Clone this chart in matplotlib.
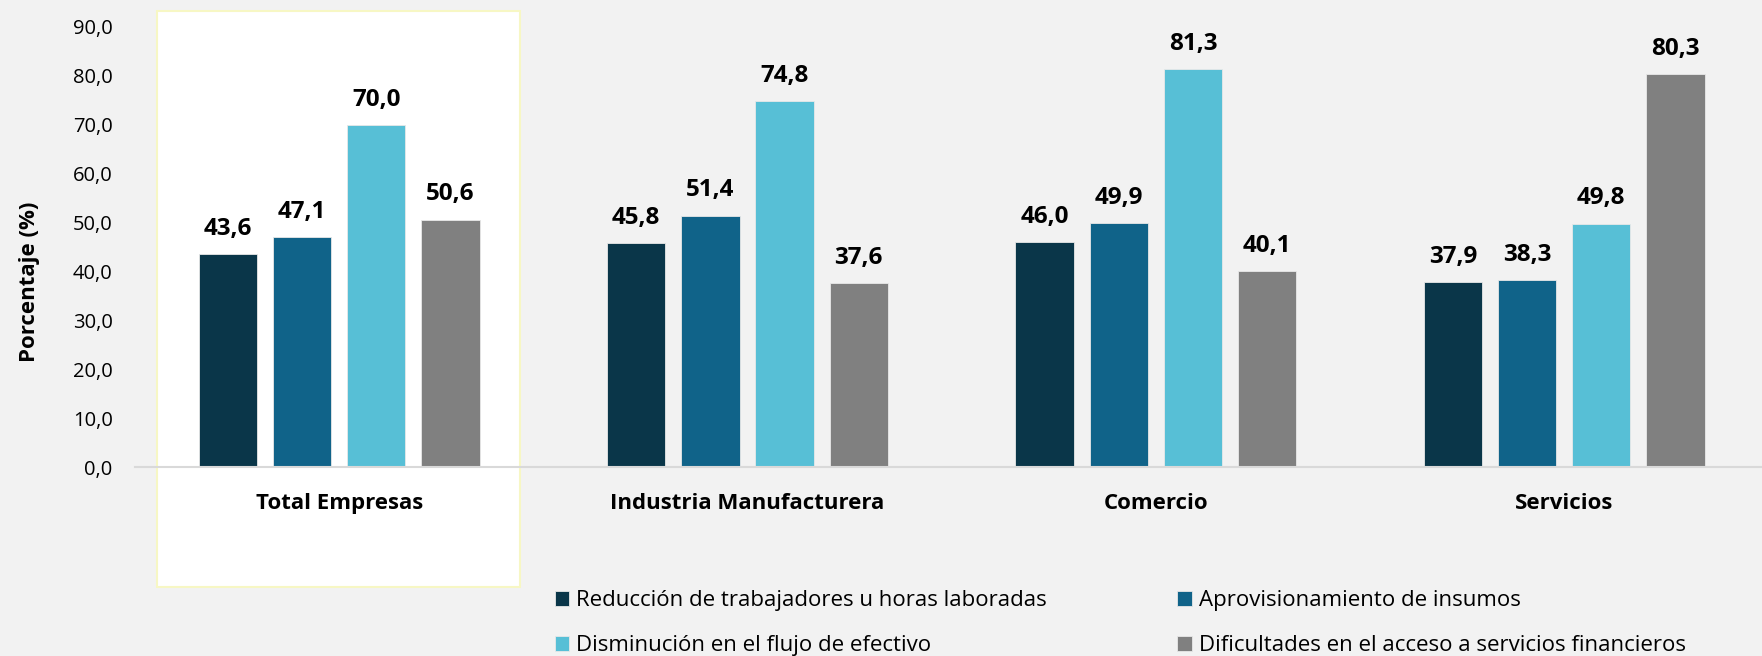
import numpy as np
import matplotlib
matplotlib.use("Agg")
import matplotlib.pyplot as plt
from matplotlib.patches import Rectangle

# Data
categories = ["Total Empresas", "Industria Manufacturera", "Comercio", "Servicios"]
series_names = [
    "Reducción de trabajadores u horas laboradas",
    "Aprovisionamiento de insumos",
    "Disminución en el flujo de efectivo",
    "Dificultades en el acceso a servicios financieros",
]
reduccion = [43.6, 45.8, 46.0, 37.9]
aprovisionamiento = [47.1, 51.4, 49.9, 38.3]
disminucion = [70.0, 74.8, 81.3, 49.8]
dificultades = [50.6, 37.6, 40.1, 80.3]
y_ticks = [0, 10, 20, 30, 40, 50, 60, 70, 80, 90]

colors = ["#0a3649", "#106389", "#57bfd6", "#808080"]
series = [reduccion, aprovisionamiento, disminucion, dificultades]

plt.rcParams['font.family'] = ['Open Sans', 'DejaVu Sans']

fig = plt.figure(figsize=(17.62, 6.56), dpi=100)
fig.patch.set_facecolor("#f2f2f2")

# highlighted box behind the first group
fig.patches.append(Rectangle((0.0891, 0.105), 0.206, 0.878, transform=fig.transFigure,
                             facecolor="white", edgecolor="#f7f7c4", linewidth=1.5, zorder=0))

ax = fig.add_axes([0.0766, 0.288, 0.927, 0.671])
ax.set_facecolor("none")
ax.set_zorder(1)

x = np.arange(len(categories))
width = 0.143
step = 0.1816
offsets = (np.arange(4) - 1.5) * step

bars_all = []
for i, (vals, c) in enumerate(zip(series, colors)):
    bars = ax.bar(x + offsets[i], vals, width, color=c, label=series_names[i],
                  edgecolor="#e8e8e8", linewidth=0.6, zorder=2)
    bars_all.append(bars)
    for b, v in zip(bars, vals):
        ax.annotate(f"{v:.1f}".replace(".", ","), (b.get_x() + b.get_width() / 2, v),
                    xytext=(0, 9.5), textcoords="offset points", ha="center", va="bottom",
                    fontsize=17.5, fontweight="bold", color="black")

ax.set_xlim(-0.5, 3.5)
ax.set_ylim(0, 90)
ax.set_yticks(y_ticks)
ax.set_yticklabels([f"{t:.1f}".replace(".", ",") for t in y_ticks], fontsize=14.5)
ax.set_xticks(x)
ax.set_xticklabels(categories, fontsize=16, fontweight="bold")
ax.tick_params(axis="y", length=0, pad=16)
ax.tick_params(axis="x", length=0, pad=18.5)

for s in ["top", "right", "left"]:
    ax.spines[s].set_visible(False)
ax.spines["bottom"].set_color("#d9d9d9")
ax.spines["bottom"].set_linewidth(1.5)

ax.set_ylabel("Porcentaje (%)", fontsize=16, fontweight="bold")
ax.yaxis.set_label_coords(-0.0584, 0.42)

order = [0, 2, 1, 3]
handles = [bars_all[i] for i in order]
labels = [series_names[i] for i in order]
fig.legend(handles, labels, loc="upper left", bbox_to_anchor=(0.3147, 0.1006),
           ncol=2, frameon=False, fontsize=16, handlelength=0.65, handleheight=0.65,
           handletextpad=0.3, columnspacing=5.9, labelspacing=1.09, borderaxespad=0,
           borderpad=0)

fig.savefig("out.png", dpi=100, facecolor=fig.get_facecolor())
